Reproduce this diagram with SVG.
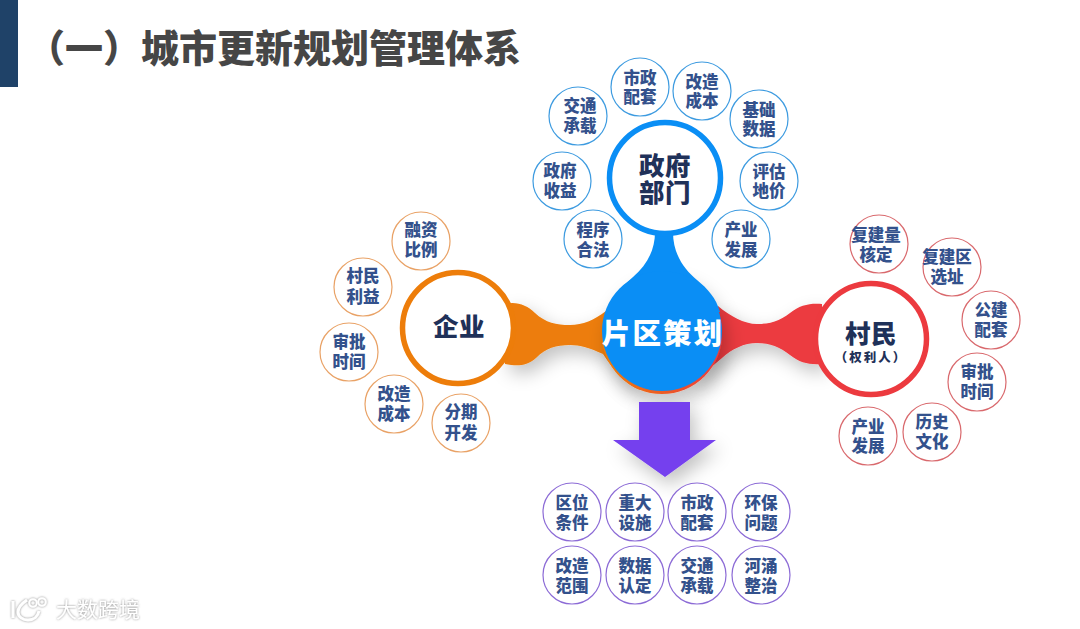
<svg xmlns="http://www.w3.org/2000/svg" width="1080" height="629" viewBox="0 0 1080 629">
<style>
text{font-family:"Noto Sans CJK SC","Liberation Sans",sans-serif;font-weight:900;text-anchor:middle}
.t{font-size:16.5px;fill:#33518c}
.b{font-size:25.5px;fill:#1f3159;letter-spacing:.5px}
circle.s{fill:#fff;stroke-width:1.2}
.sb{stroke:#3d9be0}.so{stroke:#e9a266}.sr{stroke:#d9696d}.sp{stroke:#8c6bd6}
circle.m{fill:#fff;stroke-width:5.5}
</style>
<defs>
<filter id="sh" x="-30%" y="-30%" width="160%" height="170%"><feDropShadow dx="5" dy="8" stdDeviation="9" flood-color="#000" flood-opacity=".24"/></filter>
<filter id="wm" x="-10%" y="-20%" width="120%" height="140%"><feDropShadow dx="0" dy="0" stdDeviation="1.2" flood-color="#777" flood-opacity=".9"/></filter>
<linearGradient id="cres" x1="0" y1="0" x2="1" y2="0"><stop offset="0" stop-color="#ed7d0a"/><stop offset="1" stop-color="#ec3a3f"/></linearGradient>
</defs>
<rect id="bar" x="0" y="0" width="18" height="87" fill="#1f4268"/>
<text id="title" x="27" y="62" style="font-size:38px;fill:#464646;text-anchor:start">（一）城市更新规划管理体系</text>
<g id="connectors">
<path filter="url(#sh)" fill="#ed7d0a" d="M505 304C516 301 527 305 535 313C546 323 556 325 570 325C583 325 594 320 606 311L640 390C628 386 615 373 603 354C590 348 580 345 570 345C556 345 546 348 536 358C526 367 516 366 505 364Z"/>
<path filter="url(#sh)" fill="#ec3a3f" d="M718 306C730 316 744 324 757 324C770 324 780 321 790 313C800 305 810 303 822 304L822 364C810 365 800 363 790 355C780 347 770 343 757 343C744 343 732 349 722 358L690 385Z"/>
<circle cx="662" cy="334" r="60" fill="url(#cres)" filter="url(#sh)"/>
<path fill="#0a8ef5" d="M655 232L673 232C673 255 685 270 697 280C708 289 716 298 720 312L606 312C610 300 620 288 633 277C647 265 655 250 655 232Z"/>
</g>
<g id="center"><circle cx="662" cy="331" r="60" fill="#0a8ef5"/><text x="663" y="344" style="font-size:28.5px;fill:#fff;letter-spacing:2px">片区策划</text></g>
<g id="arrow"><path filter="url(#sh)" fill="#7540ee" d="M639 402H690V440H716L665 477L613 440H639Z"/></g>
<g id="gov"><circle class="m" cx="665" cy="178" r="55.5" stroke="#0a8ef5"/><text class="b"><tspan x="665" y="175">政府</tspan><tspan x="665" y="202">部门</tspan></text></g>
<g id="ent"><circle class="m" cx="458" cy="328" r="55.5" stroke="#ed7d0a"/><text class="b" x="459" y="336">企业</text></g>
<g id="vil"><circle class="m" cx="871" cy="339" r="55.5" stroke="#ec3a3f"/><text class="b"><tspan x="871" y="343">村民</tspan><tspan x="871" y="362" style="font-size:12.5px;letter-spacing:2px">（权利人）</tspan></text></g>
<g id="gov-items">
<g id="g1"><circle class="s sb" cx="640" cy="87" r="29"/><text class="t"><tspan x="640" y="84">市政</tspan><tspan x="640" y="103">配套</tspan></text></g>
<g id="g2"><circle class="s sb" cx="702" cy="91" r="29"/><text class="t"><tspan x="702" y="88">改造</tspan><tspan x="702" y="107">成本</tspan></text></g>
<g id="g3"><circle class="s sb" cx="759" cy="119" r="29"/><text class="t"><tspan x="759" y="116">基础</tspan><tspan x="759" y="135">数据</tspan></text></g>
<g id="g4"><circle class="s sb" cx="769" cy="181" r="29"/><text class="t"><tspan x="769" y="178">评估</tspan><tspan x="769" y="197">地价</tspan></text></g>
<g id="g5"><circle class="s sb" cx="741" cy="239" r="29"/><text class="t"><tspan x="741" y="236">产业</tspan><tspan x="741" y="256">发展</tspan></text></g>
<g id="g6"><circle class="s sb" cx="593" cy="239" r="29"/><text class="t"><tspan x="593" y="236">程序</tspan><tspan x="593" y="256">合法</tspan></text></g>
<g id="g7"><circle class="s sb" cx="562" cy="181" r="29"/><text class="t"><tspan x="560" y="177">政府</tspan><tspan x="560" y="197">收益</tspan></text></g>
<g id="g8"><circle class="s sb" cx="578" cy="116" r="29"/><text class="t"><tspan x="580" y="112">交通</tspan><tspan x="580" y="132">承载</tspan></text></g>
</g>
<g id="ent-items">
<g id="e1"><circle class="s so" cx="421" cy="241" r="29"/><text class="t"><tspan x="421" y="236">融资</tspan><tspan x="421" y="256">比例</tspan></text></g>
<g id="e2"><circle class="s so" cx="363" cy="287" r="29"/><text class="t"><tspan x="363" y="282">村民</tspan><tspan x="363" y="303">利益</tspan></text></g>
<g id="e3"><circle class="s so" cx="349" cy="352" r="29"/><text class="t"><tspan x="349" y="348">审批</tspan><tspan x="349" y="368">时间</tspan></text></g>
<g id="e4"><circle class="s so" cx="394" cy="404" r="29"/><text class="t"><tspan x="394" y="400">改造</tspan><tspan x="394" y="420">成本</tspan></text></g>
<g id="e5"><circle class="s so" cx="461" cy="423" r="29"/><text class="t"><tspan x="461" y="418">分期</tspan><tspan x="461" y="439">开发</tspan></text></g>
</g>
<g id="vil-items">
<g id="v1"><circle class="s sr" cx="879" cy="244" r="29"/><text class="t"><tspan x="876" y="241">复建量</tspan><tspan x="876" y="261">核定</tspan></text></g>
<g id="v2"><circle class="s sr" cx="952" cy="267" r="29"/><text class="t"><tspan x="947" y="263">复建区</tspan><tspan x="947" y="283">选址</tspan></text></g>
<g id="v3"><circle class="s sr" cx="991" cy="320" r="29"/><text class="t"><tspan x="991" y="316">公建</tspan><tspan x="991" y="336">配套</tspan></text></g>
<g id="v4"><circle class="s sr" cx="977" cy="382" r="29"/><text class="t"><tspan x="977" y="378">审批</tspan><tspan x="977" y="398">时间</tspan></text></g>
<g id="v5"><circle class="s sr" cx="932" cy="432" r="29"/><text class="t"><tspan x="932" y="428">历史</tspan><tspan x="932" y="448">文化</tspan></text></g>
<g id="v6"><circle class="s sr" cx="868" cy="436" r="29"/><text class="t"><tspan x="868" y="433">产业</tspan><tspan x="868" y="452">发展</tspan></text></g>
</g>
<g id="out-items">
<g id="o1"><circle class="s sp" cx="572" cy="512" r="29"/><text class="t"><tspan x="572" y="509">区位</tspan><tspan x="572" y="529">条件</tspan></text></g>
<g id="o2"><circle class="s sp" cx="635" cy="512" r="29"/><text class="t"><tspan x="635" y="509">重大</tspan><tspan x="635" y="529">设施</tspan></text></g>
<g id="o3"><circle class="s sp" cx="697" cy="512" r="29"/><text class="t"><tspan x="697" y="509">市政</tspan><tspan x="697" y="529">配套</tspan></text></g>
<g id="o4"><circle class="s sp" cx="761" cy="512" r="29"/><text class="t"><tspan x="761" y="509">环保</tspan><tspan x="761" y="529">问题</tspan></text></g>
<g id="o5"><circle class="s sp" cx="572" cy="575" r="29"/><text class="t"><tspan x="572" y="572">改造</tspan><tspan x="572" y="592">范围</tspan></text></g>
<g id="o6"><circle class="s sp" cx="635" cy="575" r="29"/><text class="t"><tspan x="635" y="572">数据</tspan><tspan x="635" y="592">认定</tspan></text></g>
<g id="o7"><circle class="s sp" cx="697" cy="575" r="29"/><text class="t"><tspan x="697" y="572">交通</tspan><tspan x="697" y="592">承载</tspan></text></g>
<g id="o8"><circle class="s sp" cx="761" cy="575" r="29"/><text class="t"><tspan x="761" y="572">河涌</tspan><tspan x="761" y="592">整治</tspan></text></g>
</g>
<g id="watermark" filter="url(#wm)">
<path fill="none" stroke="#fff" stroke-width="3" d="M13 601V618M27 600C21 604 18 608 18 612C18 617 23 620 28 620C34 620 38 616 39 611"/>
<circle cx="33" cy="603" r="3.8" fill="none" stroke="#fff" stroke-width="2"/><circle cx="42" cy="602" r="3.8" fill="none" stroke="#fff" stroke-width="2"/>
<text x="98" y="617" style="font-size:21px;fill:#fff;font-weight:400">大数跨境</text>
</g>
</svg>
